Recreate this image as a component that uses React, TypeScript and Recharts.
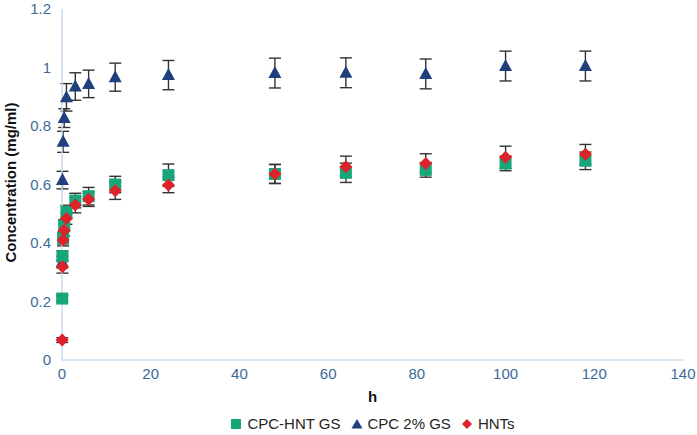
import React from "react";
import { ScatterChart, Scatter, XAxis, YAxis, ErrorBar, Legend } from "recharts";

// sampling times (h)
const hours = [0.05, 0.1, 0.25, 0.5, 1, 3, 6, 12, 24, 48, 64, 82, 100, 118];

const cpcHntGs = [0.21, 0.355, 0.417, 0.46, 0.507, 0.545, 0.56, 0.6, 0.632, 0.636, 0.64, 0.65, 0.672, 0.681];
const cpcHntGsErr = [0.01, 0.018, 0.02, 0.02, 0.022, 0.025, 0.03, 0.028, 0.038, 0.032, 0.033, 0.025, 0.025, 0.03];

const cpc2Gs = [0.335, 0.615, 0.746, 0.827, 0.898, 0.935, 0.944, 0.967, 0.974, 0.981, 0.982, 0.978, 1.005, 1.005];
const cpc2GsErr = [0.02, 0.03, 0.036, 0.032, 0.047, 0.047, 0.047, 0.048, 0.05, 0.051, 0.051, 0.051, 0.051, 0.051];

const hnts = [0.068, 0.319, 0.41, 0.444, 0.484, 0.53, 0.55, 0.579, 0.598, 0.636, 0.661, 0.672, 0.693, 0.703];
const hntsErr = [0.008, 0.022, 0.02, 0.02, 0.02, 0.027, 0.025, 0.03, 0.026, 0.033, 0.036, 0.033, 0.038, 0.034];

const xTicks = [0, 20, 40, 60, 80, 100, 120, 140];
const yTicks = [0, 0.2, 0.4, 0.6, 0.8, 1, 1.2];

const GREEN = "#16a67a";
const BLUE = "#1f3f7d";
const RED = "#dd2229";
const TICK = "#3d6a98";
const AXIS = "#c8dbee";
const FONT = "'Liberation Sans', Arial, sans-serif";

const toRows = (vals: number[], errs: number[]) =>
  hours.map((h, i) => ({ h, v: vals[i], err: errs[i] }));

const squareShape = (p: any) => (
  <rect x={p.cx - 6} y={p.cy - 6} width={12} height={12} fill={GREEN} />
);
const triangleShape = (p: any) => (
  <path d={`M${p.cx},${p.cy - 7}L${p.cx + 6.5},${p.cy + 5}L${p.cx - 6.5},${p.cy + 5}Z`} fill={BLUE} />
);
const diamondShape = (p: any) => (
  <path d={`M${p.cx},${p.cy - 6.5}L${p.cx + 6.5},${p.cy}L${p.cx},${p.cy + 6.5}L${p.cx - 6.5},${p.cy}Z`} fill={RED} />
);

const legendItems = [
  { name: "CPC-HNT GS", icon: <rect x={1} y={1} width={10} height={10} fill={GREEN} /> },
  { name: "CPC 2% GS", icon: <path d="M6,1L11.5,10.5L0.5,10.5Z" fill={BLUE} /> },
  { name: "HNTs", icon: <path d="M6,1L11,6L6,11L1,6Z" fill={RED} /> },
];

function LegendBox() {
  return (
    <div
      style={{
        marginLeft: 62,
        width: 621,
        display: "flex",
        justifyContent: "center",
        alignItems: "center",
        gap: 10,
        fontFamily: FONT,
        fontSize: 15,
        color: "#262626",
        paddingTop: 10,
      }}
    >
      {legendItems.map((it) => (
        <span key={it.name} style={{ display: "inline-flex", alignItems: "center", gap: 5 }}>
          <svg width={12} height={12}>{it.icon}</svg>
          {it.name}
        </span>
      ))}
    </div>
  );
}

export default function App() {
  return (
    <div style={{ position: "absolute", left: 0, top: 0, width: 697, height: 435, background: "#fff" }}>
      <ScatterChart width={697} height={435} margin={{ top: 9, right: 14, left: 0, bottom: 0 }}>
        <XAxis
          type="number"
          dataKey="h"
          domain={[0, 140]}
          ticks={xTicks}
          tickLine={false}
          axisLine={{ stroke: AXIS, strokeWidth: 1.5 }}
          tick={{ fill: TICK, fontSize: 15, fontFamily: FONT }}
          height={45}
          label={{
            value: "h",
            position: "insideBottom",
            offset: 3,
            style: { fontWeight: "bold", fontSize: 15, fontFamily: FONT, fill: "#111" },
          }}
        />
        <YAxis
          type="number"
          dataKey="v"
          domain={[0, 1.2]}
          ticks={yTicks}
          tickLine={false}
          tickMargin={5}
          axisLine={{ stroke: AXIS, strokeWidth: 1.5 }}
          tick={{ fill: TICK, fontSize: 15, fontFamily: FONT }}
          width={62}
          label={{
            content: ({ viewBox }: any) => {
              const cy = viewBox.y + viewBox.height / 2 - 2;
              return (
                <text
                  x={10}
                  y={cy}
                  transform={`rotate(-90, 10, ${cy})`}
                  textAnchor="middle"
                  dominantBaseline="central"
                  fontWeight="bold"
                  fontSize={15}
                  fontFamily={FONT}
                  fill="#111"
                >
                  Concentration (mg/ml)
                </text>
              );
            },
          }}
        />
        <Legend verticalAlign="bottom" height={30} wrapperStyle={{ left: 0, width: 697 }} content={() => <LegendBox />} />
        <Scatter name="CPC 2% GS" data={toRows(cpc2Gs, cpc2GsErr)} shape={triangleShape} isAnimationActive={false}>
          <ErrorBar dataKey="err" direction="y" width={6} stroke="#333" strokeWidth={1.4} />
        </Scatter>
        <Scatter name="CPC-HNT GS" data={toRows(cpcHntGs, cpcHntGsErr)} shape={squareShape} isAnimationActive={false}>
          <ErrorBar dataKey="err" direction="y" width={6} stroke="#333" strokeWidth={1.4} />
        </Scatter>
        <Scatter name="HNTs" data={toRows(hnts, hntsErr)} shape={diamondShape} isAnimationActive={false}>
          <ErrorBar dataKey="err" direction="y" width={6} stroke="#333" strokeWidth={1.4} />
        </Scatter>
      </ScatterChart>
    </div>
  );
}
